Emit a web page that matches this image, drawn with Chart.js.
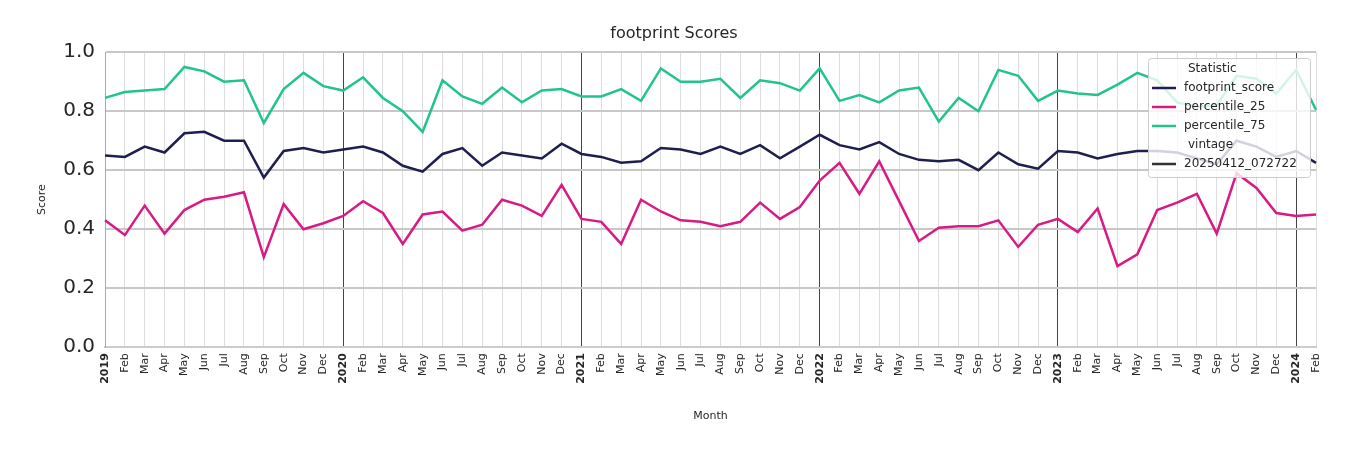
<!DOCTYPE html>
<html><head><meta charset="utf-8">
<script src="https://cdn.jsdelivr.net/npm/chart.js@4"></script>
<style>html,body{margin:0;padding:0;background:#fff}#w{width:1350px;height:450px}</style>
</head><body><div id="w"><canvas id="c"></canvas></div>
<script>
const monthNames = ["Jan","Feb","Mar","Apr","May","Jun","Jul","Aug","Sep","Oct","Nov","Dec"];
const categories = [];
for (let y = 2019; y <= 2024; y++) for (let m = 0; m < 12; m++) { if (y === 2024 && m > 1) break; categories.push(m === 0 ? String(y) : monthNames[m]); }
const footprintScore = [0.65,0.645,0.68,0.66,0.725,0.73,0.70,0.70,0.575,0.665,0.675,0.66,
 0.67,0.68,0.66,0.615,0.595,0.655,0.675,0.615,0.66,0.65,0.64,0.69,
 0.655,0.645,0.625,0.63,0.675,0.67,0.655,0.68,0.655,0.685,0.64,0.68,
 0.72,0.685,0.67,0.695,0.655,0.635,0.63,0.635,0.60,0.66,0.62,0.605,
 0.665,0.66,0.64,0.655,0.665,0.665,0.66,0.64,0.62,0.70,0.68,0.645,
 0.665,0.625];
const percentile25 = [0.43,0.38,0.48,0.385,0.465,0.50,0.51,0.525,0.305,0.485,0.40,0.42,
 0.445,0.495,0.455,0.35,0.45,0.46,0.395,0.415,0.50,0.48,0.445,0.55,
 0.435,0.425,0.35,0.50,0.46,0.43,0.425,0.41,0.425,0.49,0.435,0.475,
 0.565,0.625,0.52,0.63,0.495,0.36,0.405,0.41,0.41,0.43,0.34,0.415,
 0.435,0.39,0.47,0.275,0.315,0.465,0.49,0.52,0.385,0.59,0.54,0.455,
 0.445,0.45];
const percentile75 = [0.845,0.865,0.87,0.875,0.95,0.935,0.90,0.905,0.76,0.875,0.93,0.885,
 0.87,0.915,0.845,0.80,0.73,0.905,0.85,0.825,0.88,0.83,0.87,0.875,
 0.85,0.85,0.875,0.835,0.945,0.90,0.90,0.91,0.845,0.905,0.895,0.87,
 0.945,0.835,0.855,0.83,0.87,0.88,0.765,0.845,0.80,0.94,0.92,0.835,
 0.87,0.86,0.855,0.89,0.93,0.905,0.83,0.815,0.82,0.92,0.91,0.86,
 0.94,0.805];
const yTicks = [0,0.2,0.4,0.6,0.8,1.0];
const isYear = l => /^\d{4}$/.test(l);

const legendPlugin = {
  id:'lg',
  afterDraw(chart){
    const ctx = chart.ctx, x=1148, y=58, w=162, h=119;
    ctx.save();
    ctx.fillStyle='rgba(255,255,255,0.8)'; ctx.strokeStyle='#cccccc'; ctx.lineWidth=1;
    ctx.beginPath(); ctx.roundRect(x+0.5,y+0.5,w,h,3); ctx.fill(); ctx.stroke();
    ctx.font='12px "DejaVu Sans"'; ctx.textBaseline='middle'; ctx.fillStyle='#262626';
    const items=[['Statistic',null],['footprint_score','#1f1f4f'],['percentile_25','#d81b84'],['percentile_75','#22c38e'],['vintage',null],['20250412_072722','#333333']];
    items.forEach((it,i)=>{
      const yy=y+11+i*19;
      if(it[1]){ctx.strokeStyle=it[1];ctx.lineWidth=2.5;ctx.beginPath();ctx.moveTo(x+4,yy);ctx.lineTo(x+28,yy);ctx.stroke();ctx.fillText(it[0],x+36,yy);}
      else ctx.fillText(it[0],x+40,yy);
    });
    ctx.restore();
  }
};

new Chart(document.getElementById('c'),{
  type:'line',
  data:{labels:categories,datasets:[
    {label:'footprint_score',data:footprintScore,borderColor:'#1f1f4f',borderWidth:2.5,pointRadius:0,tension:0},
    {label:'percentile_25',data:percentile25,borderColor:'#d81b84',borderWidth:2.5,pointRadius:0,tension:0},
    {label:'percentile_75',data:percentile75,borderColor:'#22c38e',borderWidth:2.5,pointRadius:0,tension:0}
  ]},
  options:{responsive:true,maintainAspectRatio:false,animation:false,
    layout:{padding:{left:32,right:34,top:24,bottom:23}},
    plugins:{legend:{display:false},tooltip:{enabled:false},
      title:{display:true,text:'footprint Scores',color:'#262626',font:{family:'DejaVu Sans',size:16,weight:'normal'},padding:{top:0,bottom:9}}},
    scales:{
      x:{offset:false,
        grid:{color:c=>isYear(categories[c.index]||'')?'#444444':'#dddddd',lineWidth:1,drawTicks:false},
        border:{display:true,color:'#cccccc',width:2},
        ticks:{autoSkip:false,maxRotation:90,minRotation:90,padding:6,color:'#262626',
          font:c=>({family:'DejaVu Sans',size:11,weight:isYear(categories[c.index]||'')?'bold':'normal'})},
        title:{display:true,text:'Month',color:'#262626',font:{family:'DejaVu Sans',size:11},padding:{top:20}}},
      y:{min:0,max:1,
        afterBuildTicks:a=>{a.ticks=yTicks.map(v=>({value:v}));},
        grid:{color:'#c8c8c8',lineWidth:2,drawTicks:false},
        border:{display:true,color:'#aaaaaa',width:1},
        ticks:{padding:10,color:'#262626',font:{family:'DejaVu Sans',size:20},callback:v=>Number(v).toFixed(1)},
        title:{display:true,text:'Score',color:'#262626',font:{family:'DejaVu Sans',size:11},padding:{bottom:4}}}
    }
  },
  plugins:[legendPlugin]
});
</script></body></html>
